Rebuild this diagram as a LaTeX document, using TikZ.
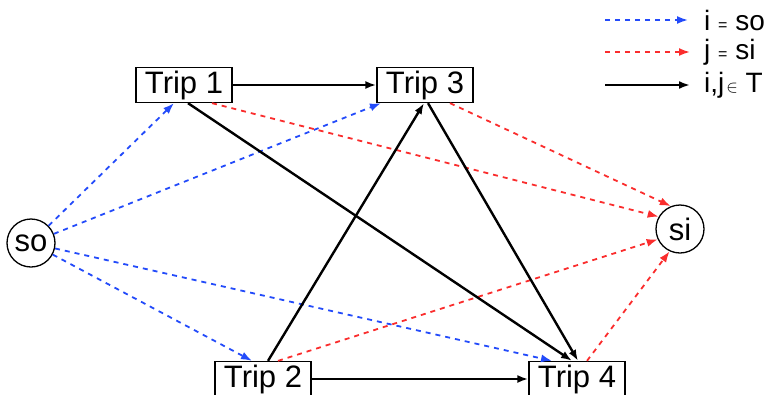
\documentclass[tikz,border=0pt]{standalone}
\usepackage{fontspec}
\setmainfont{Liberation Sans}
\usetikzlibrary{positioning,arrows.meta}

\begin{document}
\begin{tikzpicture}[
            x=1pt, y=-1pt,
            trip/.style={
                rectangle,
                draw=black,
                line width=1.3pt,
                minimum width=96pt,
                minimum height=35pt,
                inner sep=0pt,
                font=\fontsize{31}{31}\selectfont
            },
            term/.style={
                circle,
                draw=black,
                line width=1.3pt,
                minimum size=48pt,
                inner sep=0pt,
                font=\fontsize{31}{31}\selectfont
            },
            legendtext/.style={
                anchor=west,
                inner sep=0pt,
                font=\fontsize{28}{28}\selectfont
            },
            soedge/.style={
                ->,
                line width=1.8pt,
                dash pattern=on 5pt off 5pt,
                soblue
            },
            siedge/.style={
                ->,
                line width=1.8pt,
                dash pattern=on 5pt off 5pt,
                sired
            },
            tripedge/.style={
                ->,
                line width=2.4pt,
                black
            },
            >= {Latex[length=11pt,width=8pt]},
        ]
            \definecolor{soblue}{RGB}{35,75,250}
            \definecolor{sired}{RGB}{250,45,45}

            \useasboundingbox (0,0) rectangle (771,394);

            % trips and terminals
            \node[trip] (trip1) at (184,85) {Trip 1};
            \node[trip] (trip3) at (425,85) {Trip 3};
            \node[trip] (trip2) at (263,379) {Trip 2};
            \node[trip] (trip4) at (577,379) {Trip 4};
            \node[term] (so) at (31,243) {so};
            \node[term] (si) at (680,229) {si};

            % source arcs
            \draw[soedge] (so) -- ([xshift=-10pt]trip1.south);
            \draw[soedge] (so) -- ([xshift=-44pt]trip3.south);
            \draw[soedge] (so) -- ([xshift=-11pt]trip2.north);
            \draw[soedge] (so) -- ([xshift=-25pt]trip4.north);

            % sink arcs
            \draw[siedge] ([xshift=28pt]trip1.south) -- (si.150);
            \draw[siedge] ([xshift=25pt]trip3.south) -- (si.112);
            \draw[siedge] ([xshift=15pt]trip2.north) -- (si.205);
            \draw[siedge] ([xshift=10pt]trip4.north) -- (si.245);

            % arcs between trips
            \draw[tripedge] (trip1.east) -- (trip3.west);
            \draw[tripedge] (trip2.east) -- (trip4.west);
            \draw[tripedge] ([xshift=4pt]trip1.south) -- ([xshift=-5pt]trip4.north);
            \draw[tripedge] ([xshift=5pt]trip2.north) -- ([xshift=-1pt]trip3.south);
            \draw[tripedge] ([xshift=3pt]trip3.south) -- ([xshift=1pt]trip4.north);

            % legend
            \coordinate (lso) at (605,20);
            \coordinate (lsi) at (605,52);
            \coordinate (ltrip) at (605,85);
            \node[legendtext] (tso) at (704,20) {i {\fontsize{16}{16}\selectfont =} so};
            \node[legendtext] (tsi) at (704,52) {j {\fontsize{16}{16}\selectfont =} si};
            \node[legendtext] (ttrip) at (704,85) {i,j{\fontsize{19}{19}\selectfont\kern2pt$\in$} T};
            \draw[soedge] (lso) -- ([xshift=-16pt]tso.west);
            \draw[siedge] (lsi) -- ([xshift=-14pt]tsi.west);
            \draw[tripedge] (ltrip) -- ([xshift=-14pt]ttrip.west);
        \end{tikzpicture}
\end{document}
